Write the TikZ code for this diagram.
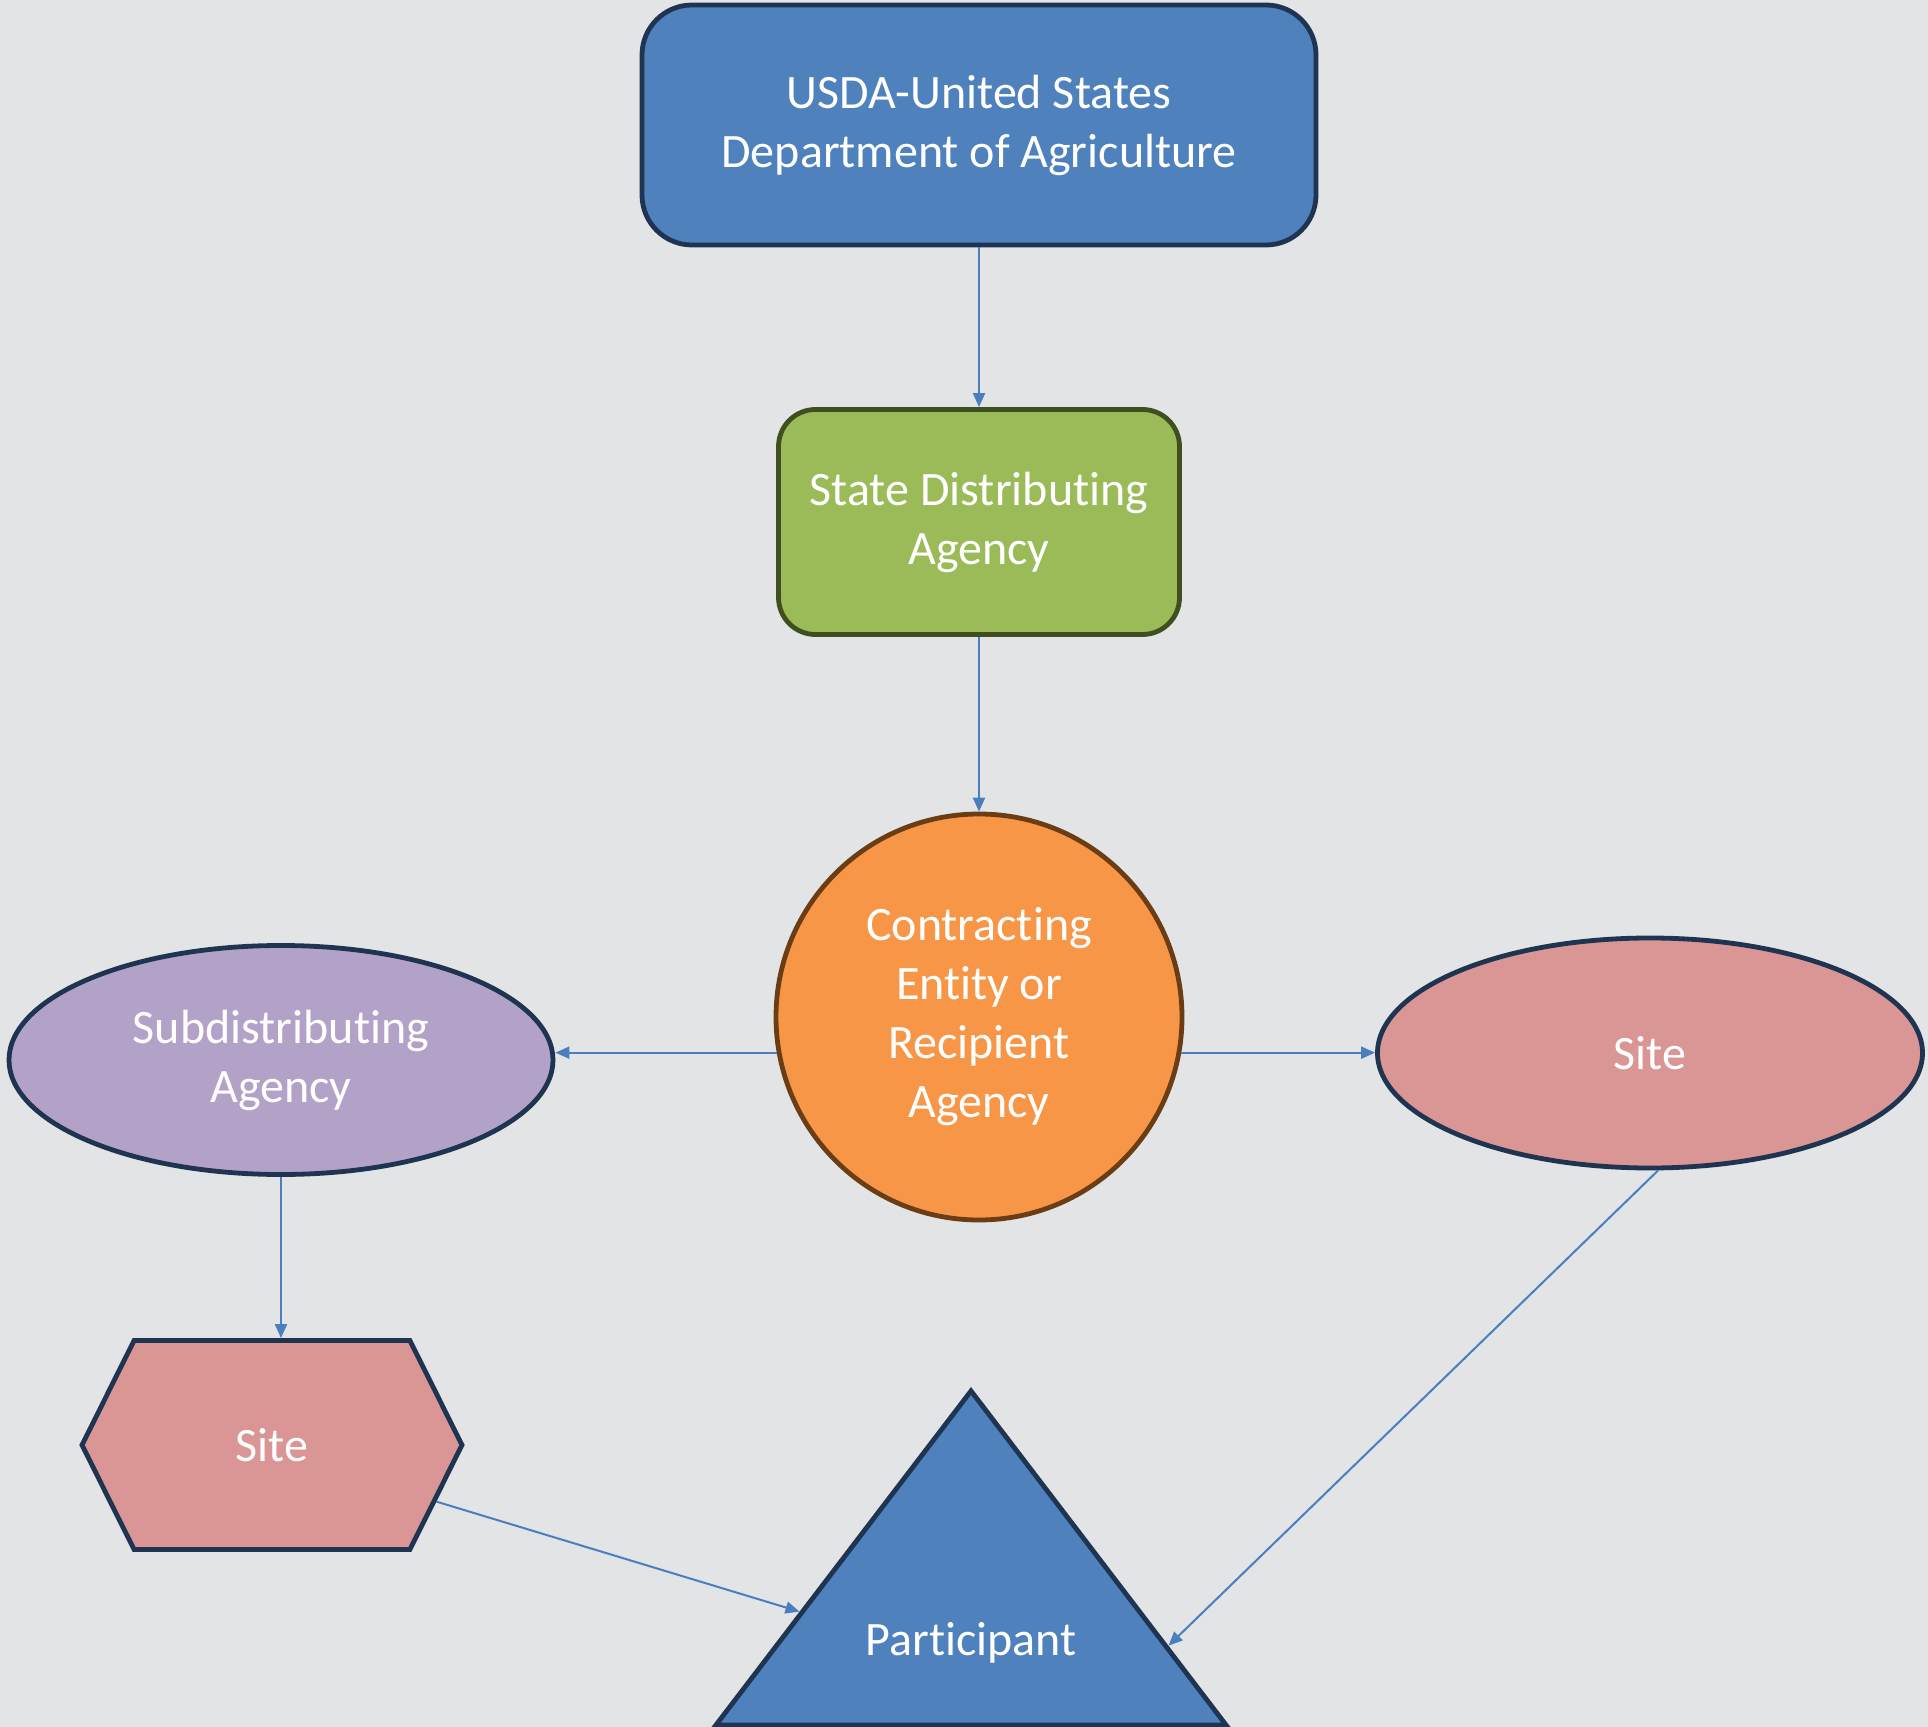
\documentclass[tikz,border=0pt]{standalone}
\usepackage{fontspec}
\setmainfont{Carlito}[Ligatures=NoCommon]
\usetikzlibrary{shapes.geometric,shapes.symbols,arrows.meta,calc}
\definecolor{bg}{HTML}{E2E4E6}
\definecolor{usdablue}{HTML}{4F81BD}
\definecolor{navy}{HTML}{1E3450}
\definecolor{sdagreen}{HTML}{9BBB59}
\definecolor{sdaborder}{HTML}{3F4F1F}
\definecolor{ceorange}{HTML}{F79646}
\definecolor{ceborder}{HTML}{6B3D14}
\definecolor{sublilac}{HTML}{B3A2C7}
\definecolor{sitepink}{HTML}{D99694}
\definecolor{linkblue}{HTML}{4A7EBF}
\tikzset{box/.style={draw,line width=2.4pt,text=white,align=center,
                     font=\fontsize{24}{29.5}\selectfont},
         link/.style={->,draw=linkblue,line width=1pt},
         >={Triangle[length=7pt,width=6pt]}}

\begin{document}
\begin{tikzpicture}[x=0.5pt,y=-0.5pt]
        \path [use as bounding box,fill=bg] (0,0) rectangle (1928,1727);

        \node [box,rounded corners=25pt,fill=usdablue,draw=navy,minimum width=337pt,minimum height=120pt]
              (usda) at (979,125) {USDA-United States\\Department of Agriculture};
        \node [box,rounded corners=18.5pt,fill=sdagreen,draw=sdaborder,minimum width=200.5pt,minimum height=112.5pt]
              (sda) at (979,522) {State Distributing\\Agency};
        \node [box,circle,fill=ceorange,draw=ceborder,minimum size=203pt]
              (ce) at (979,1017) {Contracting\\Entity or\\Recipient\\Agency};
        \node [box,ellipse,fill=sublilac,draw=navy,minimum width=272pt,minimum height=114.5pt]
              (sub) at (281,1060) {Subdistributing\\Agency};
        \node [box,ellipse,fill=sitepink,draw=navy,minimum width=272.5pt,minimum height=115pt]
              (site) at (1650,1053) {Site};
        \node [box,signal,signal to=east and west,signal pointer angle=127,fill=sitepink,draw=navy,
               minimum width=190pt,minimum height=104.5pt]
              (subsite) at (272,1445) {Site};
        \node [box,isosceles triangle,isosceles triangle apex angle=75,isosceles triangle stretches,
               shape border rotate=90,minimum width=255pt,minimum height=167pt,inner sep=0pt,
               fill=usdablue,draw=navy,anchor=apex]
              (part) at (971,1387) {};
        \node [box,draw=none] (partlabel) at (971,1643) {Participant};

        \draw [link] (usda) -- (sda);
        \draw [link] (sda) -- (ce);
        \draw [link] (ce.190) -- (ce.190 -| sub.east);
        \draw [link] (ce.-10) -- (ce.-10 -| site.west);
        \draw [link] (sub) -- (sub |- subsite.north);
        \draw [link] (subsite.-19) -- ($(part.apex)!0.66!(part.left corner)$);
        \draw [link] (site.-86) -- ($(part.apex)!0.76!(part.right corner)$);
      \end{tikzpicture}
\end{document}
